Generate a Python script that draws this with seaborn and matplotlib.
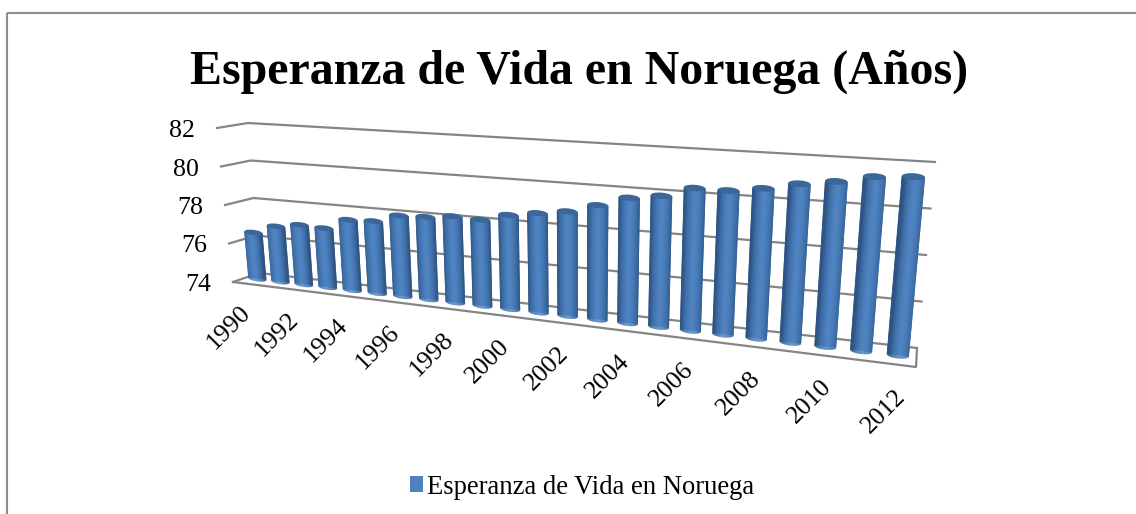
import numpy as np
import pandas as pd
import seaborn as sns
import matplotlib
matplotlib.use("Agg")
import matplotlib.pyplot as plt
from matplotlib.colors import LinearSegmentedColormap
from matplotlib.patches import Ellipse, Patch, Rectangle
from matplotlib.transforms import Transform

# Data
YEARS = list(range(1990, 2013))
LIFE_EXP = [76.5, 76.95, 77.15, 77.1, 77.65, 77.7, 78.1, 78.15, 78.3, 78.25, 78.6, 78.8,
            79.0, 79.4, 79.85, 80.05, 80.5, 80.5, 80.7, 81.0, 81.2, 81.5, 81.6]
Y_TICKS = [74, 76, 78, 80, 82]
YEAR_LABELS = YEARS[::2]
TITLE = "Esperanza de Vida en Noruega (Años)"
SERIES = "Esperanza de Vida en Noruega"

BASE = 74
TOP = 82
CAP_H = 0.14
GRID = "#858585"

# chart box corners in image pixels
FRONT_LEFT = {74: (233, 282), 82: (217, 128)}
BACK_LEFT = {74: (259, 273), 82: (248, 123)}
BACK_RIGHT = {74: (917, 348), 82: (935, 162)}
FRONT_RIGHT_FLOOR = (916, 367)
MID_QUAD = [(246, 277.5), (916.5, 357.5), (934, 168), (232.5, 125.5)]


def homography(src, dst):
    rows, rhs = [], []
    for (x, y), (u, v) in zip(src, dst):
        rows.append([x, y, 1, 0, 0, 0, -u * x, -u * y])
        rows.append([0, 0, 0, x, y, 1, -v * x, -v * y])
        rhs += [u, v]
    return np.append(np.linalg.solve(np.array(rows, float), np.array(rhs, float)), 1).reshape(3, 3)


class Perspective(Transform):
    input_dims = 2
    output_dims = 2
    is_affine = False

    def __init__(self, mat, count, warp=1.025):
        super().__init__()
        self.mat = mat
        self.count = count
        self.warp = warp

    def transform_non_affine(self, values):
        values = np.array(values, float)
        # Excel spaces the columns a little tighter on the near-left side
        s = (values[:, 0] + 0.5) / self.count
        values[:, 0] = s / (s + self.warp * (1 - s)) * self.count - 0.5
        pts = np.c_[values, np.ones(len(values))] @ self.mat.T
        return pts[:, :2] / pts[:, 2:]


def wall(corners, value):
    t = (value - BASE) / (TOP - BASE)
    a, b = np.array(corners[BASE]), np.array(corners[TOP])
    return a + (b - a) * t


n = len(YEARS)
src = [(-0.5, BASE), (n - 0.5, BASE), (n - 0.5, TOP), (-0.5, TOP)]
persp = Perspective(homography(src, MID_QUAD), n)

fig = plt.figure(figsize=(11.36, 5.14), dpi=100)
ax = fig.add_axes([0, 0, 1, 1])
plt.rcParams["font.family"] = ["Liberation Serif"]

df = pd.DataFrame({"year": YEARS, "life": LIFE_EXP})
sns.barplot(data=df, x="year", y="life", color="#4f81bd", width=0.7, saturation=1, ax=ax)
base_bars = list(ax.patches)

# cylinder shading: thin strips per bar, light side drifts right along the row
cyl = LinearSegmentedColormap.from_list(
    "cyl", ["#2a4d7a", "#3c6ba3", "#4a7cb9", "#5087c6", "#4a7cb9", "#3c6ba3", "#2a4d7a"])
steps = np.linspace(-1, 1, 32)
strips = []
caps = []
for i, bar in enumerate(base_bars):
    # column gets only slightly wider on screen, while the spacing grows a lot
    px_w = 18 + 4 * i / (n - 1)
    spacing = persp.transform([(i + 0.5, BASE)])[0, 0] - persp.transform([(i - 0.5, BASE)])[0, 0]
    w = px_w / spacing
    light = 0.40 + 0.22 * i / (n - 1)
    bar.set_y(BASE)
    bar.set_height(bar.get_height() - BASE)
    bar.set_x(i - w / 2)
    bar.set_width(w)
    for a, b in zip(steps[:-1], steps[1:]):
        mid = (a + b) / 2
        drop = CAP_H * np.sqrt(1 - mid ** 2)
        shade = np.clip((mid + 1) / 2 + 0.5 - light, 0, 1)
        strips += ax.bar(i + mid * w / 2, bar.get_height() + drop, w * (b - a) / 2 * 1.2,
                         bottom=BASE - drop, color=cyl(shade), linewidth=0)
    cap = Ellipse((i, bar.get_y() + bar.get_height()), w, 2 * CAP_H, facecolor="#3a6698", edgecolor="none")
    ax.add_patch(cap)
    caps.append(cap)

ax.set_xlim(0, 1136)
ax.set_ylim(514, 0)
ax.set_axis_off()
for art in base_bars + strips + caps:
    art.set_transform(persp + ax.transData)
    art.set_clip_on(False)
    art.set_zorder(3)

# frame
ax.add_patch(Rectangle((7, 13), 1140, 520, fill=False, edgecolor="#8c8c8c", linewidth=1.5, clip_on=False))

# walls and floor
for v in Y_TICKS:
    pts = np.array([wall(FRONT_LEFT, v), wall(BACK_LEFT, v), wall(BACK_RIGHT, v)])
    ax.plot(pts[:, 0], pts[:, 1], color=GRID, lw=1.6, zorder=1)
    fl = wall(FRONT_LEFT, v)
    ax.text(fl[0] - 22, fl[1] + 3, str(v), ha="right", va="center", fontsize=18.6,
            family="Liberation Serif", color="black")
floor = np.array([FRONT_LEFT[BASE], FRONT_RIGHT_FLOOR, BACK_RIGHT[BASE]])
ax.plot(floor[:, 0], floor[:, 1], color=GRID, lw=1.6, zorder=1)

# year labels along the front edge
for year in YEAR_LABELS:
    i = YEARS.index(year)
    t = i / (n - 1)
    px = persp.transform([(i, BASE)])[0]
    ax.text(px[0] - 18 + 14 * t, px[1] + 23 + 7 * t, str(year), rotation=45, rotation_mode="anchor",
            ha="right", va="top", fontsize=18.6, family="Liberation Serif", color="black")

ax.text(579, 72, TITLE, ha="center", va="center", fontsize=34.5, fontweight="bold",
        family="Liberation Serif", color="black")

leg = ax.legend(handles=[Patch(facecolor="#4f81bd", label=SERIES)], loc="center",
                bbox_to_anchor=(582 / 1136, 1 - 487 / 514), frameon=False, handlelength=0.52,
                handleheight=0.52, handletextpad=0.15, prop={"family": "Liberation Serif", "size": 19.2})

fig.savefig("out.png", dpi=100)
